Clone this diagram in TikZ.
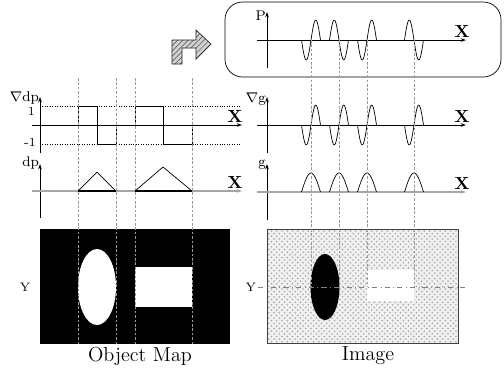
\documentclass[tikz,border=0pt]{standalone}
\usetikzlibrary{arrows.meta,patterns}
\usepackage{xcolor}

\begin{document}
\begin{tikzpicture}[x=0.02cm, y=-0.02cm,
  axis/.style={thin, -{Stealth[length=3pt,width=2pt]}},
  baseaxis/.style={gray!70, semithick, -{Stealth[length=3pt,width=2pt]}},
  guide/.style={gray!80, dash pattern=on 1.5pt off 1pt, very thin},
  level/.style={densely dotted, thin},
  wave/.style={thin, smooth, samples=31},
  lbl/.style={font=\footnotesize, inner sep=1pt},
  tick/.style={font=\scriptsize, inner sep=1pt},
  xlbl/.style={font=\bfseries, inner sep=1pt},
  caption/.style={font=\fontsize{11.5}{13}\selectfont, inner sep=1pt},
]
  \useasboundingbox (0,0) rectangle (504,376);

  % Processing arrow and the P box
  \draw[gray!30!black, preaction={fill=gray!35},
        pattern=north east lines, pattern color=gray!80!black]
    (172,64) -- (172,40) -- (196,40) -- (196,30) -- (211,44)
    -- (196,59) -- (196,48) -- (182,48) -- (182,64) -- cycle;
  \draw[rounded corners=10] (225,2) rectangle (501,77);

  % Axes, left side
  \coordinate (gdp-b) at (40,153);  \coordinate (gdp-t) at (40,97);
  \coordinate (gdp-l) at (32,125);  \coordinate (gdp-r) at (242,125);
  \coordinate (dp-b) at (40,218);   \coordinate (dp-t) at (40,164);
  \coordinate (dp-l) at (32,191);   \coordinate (dp-r) at (242,191);
  \draw[axis] (gdp-b) -- (gdp-t);
  \draw[axis] (gdp-l) -- (gdp-r);
  \draw[axis] (dp-b) -- (dp-t);
  \draw[baseaxis] (dp-l) -- (dp-r);

  % Axes, right side
  \coordinate (p-b) at (267,68);    \coordinate (p-t) at (267,12);
  \coordinate (p-l) at (257,40);    \coordinate (p-r) at (466,40);
  \coordinate (gg-b) at (267,153);  \coordinate (gg-t) at (267,97);
  \coordinate (gg-l) at (257,125);  \coordinate (gg-r) at (466,125);
  \coordinate (g-b) at (267,220);   \coordinate (g-t) at (267,164);
  \coordinate (g-l) at (257,192);   \coordinate (g-r) at (466,192);
  \draw[axis] (p-b) -- (p-t);
  \draw[axis] (p-l) -- (p-r);
  \draw[axis] (gg-b) -- (gg-t);
  \draw[axis] (gg-l) -- (gg-r);
  \draw[axis] (g-b) -- (g-t);
  \draw[baseaxis] (g-l) -- (g-r);

  % Axis labels
  \node[lbl, anchor=east] (lab-gdp) at (41,98) {$\nabla$dp};
  \node[tick, anchor=east] (lab-one) at (37,111) {1};
  \node[tick, anchor=east] (lab-mone) at (38,142) {-1};
  \node[lbl, anchor=east] (lab-dp) at (41,163) {dp};
  \node[lbl, anchor=east] (lab-p) at (268,16) {P};
  \node[lbl, anchor=east] (lab-gg) at (268,99) {$\nabla$g};
  \node[lbl, anchor=east] (lab-g) at (268,165) {g};
  \node[xlbl] (x-gdp) at (235,116) {X};
  \node[xlbl] (x-dp) at (235,182) {X};
  \node[xlbl] (x-p) at (462,31) {X};
  \node[xlbl] (x-gg) at (462,116) {X};
  \node[xlbl] (x-g) at (462,183) {X};

  % Levels +1 / -1
  \draw[level] (40,106) -- (240,106);
  \draw[level] (40,144) -- (240,144);

  % Gradient of the object map
  \draw (78,125) -- (78,106) -- (97,106) -- (97,144) -- (116,144) -- (116,125);
  \draw (135,125) -- (135,106) -- (163,106) -- (163,144) -- (192,144) -- (192,125);

  % Object map profile
  \draw[thick] (78,191) -- (116,191);
  \draw[thick] (135,191) -- (192,191);
  \draw (78,191) -- (97,172) -- (116,191);
  \draw (135,191) -- (163,167) -- (192,191);

  % Signals
  \foreach \c/\s in {311/1,339/-1,367/1,414/-1}{
    \draw[wave] plot[domain=-9.5:9.5] ({\c+\x},{40-20*\s*sin(360*\x/19)});
    \draw[wave] plot[domain=-9.5:9.5] ({\c+\x},{125-20*sin(360*\x/19)});
    \draw[wave] plot[domain=-9.5:9.5] ({\c+\x},{192-19*cos(180*\x/19)});
  }

  % Object map
  \fill (40,229) rectangle (230,344);
  \fill[white] (97,287) ellipse [x radius=19, y radius=38];
  \fill[white] (135,267) rectangle (192,307);
  \node[tick] (y-map) at (25,287) {Y};

  % Image
  \fill[gray!12] (267,229) rectangle (458,343);
  \fill[pattern=crosshatch dots, pattern color=gray!70] (267,229) rectangle (458,343);
  \draw[gray!50!black] (267,229) rectangle (458,343);
  \fill (325,287) ellipse [x radius=14.5, y radius=33];
  \fill[white] (367,270) rectangle (414,301);
  \node[tick, anchor=east] (y-img) at (258,287) {Y};
  \draw[gray, very thin, dash dot] (y-img.east) -- (465,287);

  % Guide lines
  \foreach \gx in {78,116,135,192}
    \draw[guide] (\gx,78) -- (\gx,344);
  \foreach \gx in {311,339,367,414}
    \draw[guide] (\gx,40) -- (\gx,287);

  % Captions
  \node[caption] (cap-map) at (140,356) {Object Map};
  \node[caption] (cap-img) at (368,356) {Image};
\end{tikzpicture}
\end{document}
